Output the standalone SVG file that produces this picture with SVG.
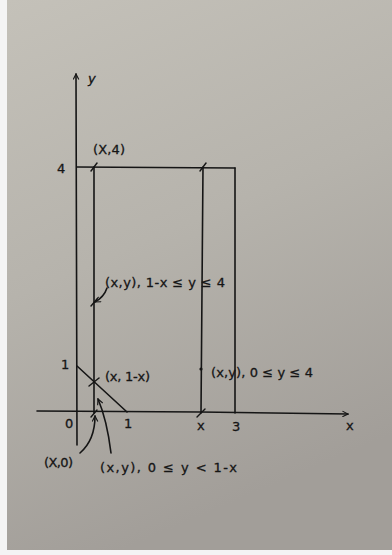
<svg xmlns="http://www.w3.org/2000/svg" width="392" height="555" viewBox="0 0 392 555">
<defs>
<linearGradient id="paper" x1="0" y1="0" x2="0.3" y2="1">
<stop offset="0" stop-color="#c4c1b9"/>
<stop offset="0.5" stop-color="#b6b3ac"/>
<stop offset="1" stop-color="#a29e99"/>
</linearGradient>
<marker id="head" viewBox="0 0 10 10" refX="9" refY="5" markerWidth="7" markerHeight="7" orient="auto" markerUnits="userSpaceOnUse">
<path d="M1,1 L9,5 L1,9" fill="none" stroke="#151515" stroke-width="1.6"/>
</marker>
</defs>
<style>
.ln{fill:none;stroke:#151515;stroke-width:1.6;stroke-linecap:round}
.tk{fill:none;stroke:#151515;stroke-width:1.4;stroke-linecap:round}
.t{font-family:"DejaVu Sans",sans-serif;font-size:13px;fill:#151515;stroke:#151515;stroke-width:0.3}
</style>
<rect width="392" height="555" fill="#f4f4f4"/>
<rect x="7" y="0" width="385" height="550" fill="url(#paper)"/>
<g id="axes">
<path class="ln" d="M77,445 L76,74" marker-end="url(#head)"/>
<path class="ln" d="M37,411 L200,412 L348,414" marker-end="url(#head)"/>
<text class="t" x="88" y="83" font-style="italic">y</text>
<text class="t" x="346" y="430">x</text>
</g>
<g id="lines">
<path class="ln" d="M77,167 L235,168"/>
<path class="ln" d="M94,167 L94,413"/>
<path class="ln" d="M203,167 L201,413"/>
<path class="ln" d="M235,168 L235,413"/>
<path class="ln" d="M77,366 L127,412"/>
</g>
<g id="ticks">
<path class="tk" d="M91,171 L97,163"/>
<path class="tk" d="M200,171 L206,163"/>
<path class="tk" d="M91,306 L97,299"/>
<path class="tk" d="M89,386 L99,378"/>
<path class="tk" d="M91,417 L97,410"/>
<path class="tk" d="M197,417 L205,409"/>
<circle cx="201" cy="369" r="1.6" fill="#151515"/>
</g>
<g id="pointers">
<path class="ln" d="M107,288 Q104,297 95,302" marker-end="url(#head)"/>
<path class="ln" d="M80,453 Q95,440 95,416" marker-end="url(#head)"/>
<path class="ln" d="M111,453 Q107,420 98,399" marker-end="url(#head)"/>
</g>
<g id="labels">
<text class="t" x="57" y="173">4</text>
<text class="t" x="93" y="154" textLength="32">(X,4)</text>
<text class="t" x="61" y="369">1</text>
<text class="t" x="65" y="428">0</text>
<text class="t" x="124" y="428">1</text>
<text class="t" x="197" y="430">x</text>
<text class="t" x="232" y="431">3</text>
<text class="t" x="105" y="287" textLength="120">(x,y),  1-x ≤ y ≤ 4</text>
<text class="t" x="105" y="381" textLength="45">(x, 1-x)</text>
<text class="t" x="211" y="377" textLength="102">(x,y),  0 ≤ y ≤ 4</text>
<text class="t" x="44" y="467" textLength="29">(X,0)</text>
<text class="t" x="100" y="472" textLength="137">(x,y),  0 ≤ y &lt; 1-x</text>
</g>
</svg>
